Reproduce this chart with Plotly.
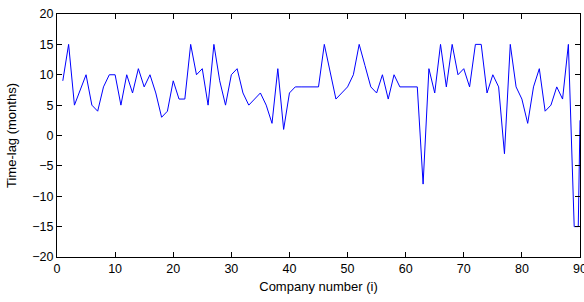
import plotly.graph_objects as go

company = list(range(1, 89)) + [89, 89.7, 90]
time_lag = [
    9, 15, 5, 7.5, 10, 5, 4, 8, 10, 10,
    5, 10, 7, 11, 8, 10, 7, 3, 4, 9,
    6, 6, 15, 10, 11, 5, 15, 9, 5, 10,
    11, 7, 5, 6, 7, 5, 2, 11, 1, 7,
    8, 8, 8, 8, 8, 15, 10.5, 6, 7, 8,
    10, 15, 11.5, 8, 7, 10, 6, 10, 8, 8,
    8, 8, -8, 11, 7, 15, 8, 15, 10, 11,
    8, 15, 15, 7, 10, 8, -3, 15, 8, 6,
    2, 8, 11, 4, 5, 8, 6, 15,
    -15, -15, 2.5,
]

x_ticks = [0, 10, 20, 30, 40, 50, 60, 70, 80, 90]
y_ticks = [-20, -15, -10, -5, 0, 5, 10, 15, 20]

fig = go.Figure()
fig.add_trace(go.Scatter(
    x=company, y=time_lag, mode="lines",
    line=dict(color="#0000ff", width=1),
    showlegend=False,
))

font = dict(family="Liberation Sans, Arial, sans-serif", size=12.5, color="#000000")

axis_common = dict(
    showline=True, linecolor="#000000", linewidth=1, mirror="ticks",
    ticks="inside", ticklen=5, tickcolor="#000000", tickwidth=1,
    showgrid=False, zeroline=False, tickfont=font, automargin=False,
    ticklabeloverflow="allow",
)

fig.update_layout(
    width=584, height=302,
    margin=dict(l=57, r=4, t=14, b=45),
    paper_bgcolor="#ffffff", plot_bgcolor="#ffffff",
    font=font,
    xaxis=dict(range=[0, 90], tickvals=x_ticks,
               title=dict(text="Company number (i)", font=dict(size=13), standoff=6),
               **axis_common),
    yaxis=dict(range=[-20, 20], tickvals=y_ticks,
               title=dict(text="Time-lag (months)", font=dict(size=13), standoff=12),
               **axis_common),
)

fig.write_html(
    "out.html",
    config={"displayModeBar": False},
    post_script="document.body.style.margin='0';document.body.style.overflow='hidden';",
)
